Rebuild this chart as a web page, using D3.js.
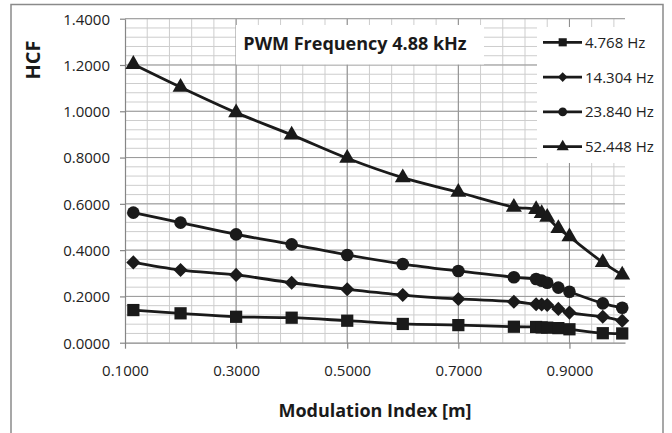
<!DOCTYPE html>
<html>
<head>
<meta charset="utf-8">
<script src="https://cdn.jsdelivr.net/npm/d3@7"></script>
<style>
  body { margin: 0; background: #fff; }
  svg { display: block; font-family: "Open Sans", sans-serif; }
</style>
</head>
<body>
<div id="chart"></div>
<script>
// modulation index values (x)
const modIndex = [0.115, 0.2, 0.3, 0.4, 0.5, 0.6, 0.7, 0.8, 0.84, 0.85, 0.86, 0.88, 0.9, 0.96, 0.995];

// HCF per series
const hcf4768  = [0.141, 0.127, 0.112, 0.108, 0.095, 0.081, 0.076, 0.069, 0.068, 0.066, 0.065, 0.063, 0.058, 0.041, 0.040];
const hcf14304 = [0.347, 0.314, 0.293, 0.259, 0.231, 0.206, 0.189, 0.177, 0.166, 0.165, 0.163, 0.146, 0.130, 0.112, 0.095];
const hcf23840 = [0.562, 0.519, 0.468, 0.425, 0.379, 0.340, 0.310, 0.283, 0.275, 0.268, 0.259, 0.238, 0.220, 0.170, 0.151];
const hcf52448 = [1.203, 1.104, 0.994, 0.898, 0.797, 0.713, 0.650, 0.586, 0.576, 0.559, 0.542, 0.494, 0.458, 0.347, 0.293];

const seriesNames = ["4.768 Hz", "14.304 Hz", "23.840 Hz", "52.448 Hz"];
const xTicks = [0.1, 0.3, 0.5, 0.7, 0.9];
const yTicks = [0, 0.2, 0.4, 0.6, 0.8, 1.0, 1.2, 1.4];

const chartTitle = "PWM Frequency 4.88 kHz";
const xTitle = "Modulation Index [m]";
const yTitle = "HCF";

const width = 672, height = 433;
const margin = {left: 125, top: 18.7, right: 47, bottom: 90.3};
const innerW = width - margin.left - margin.right;
const innerH = height - margin.top - margin.bottom;

const x = d3.scaleLinear().domain([0.1, 1.0]).range([0, innerW]);
const y = d3.scaleLinear().domain([0, 1.4]).range([innerH, 0]);

const svg = d3.select("#chart").append("svg")
  .attr("width", width).attr("height", height);

// outer chart border
svg.append("rect")
  .attr("x", 11).attr("y", 4.5)
  .attr("width", 652).attr("height", 440)
  .attr("fill", "#fff").attr("stroke", "#8a8a8a").attr("stroke-width", 1.5);

const g = svg.append("g").attr("transform", `translate(${margin.left},${margin.top})`);

// minor grid
const minorX = d3.range(0.14, 1.0001, 0.04);
const minorY = d3.range(0.04, 1.4001, 0.04);
g.append("g").selectAll("line").data(minorX).join("line")
  .attr("x1", d => x(d)).attr("x2", d => x(d)).attr("y1", 0).attr("y2", innerH)
  .attr("stroke", "#cdcdcd").attr("stroke-width", 1);
g.append("g").selectAll("line").data(minorY).join("line")
  .attr("x1", 0).attr("x2", innerW).attr("y1", d => y(d)).attr("y2", d => y(d))
  .attr("stroke", "#cdcdcd").attr("stroke-width", 1);

// major grid
g.append("g").selectAll("line").data(xTicks.slice(1)).join("line")
  .attr("x1", d => x(d)).attr("x2", d => x(d)).attr("y1", 0).attr("y2", innerH)
  .attr("stroke", "#8c8c8c").attr("stroke-width", 1);
g.append("g").selectAll("line").data(yTicks.slice(1)).join("line")
  .attr("x1", 0).attr("x2", innerW).attr("y1", d => y(d)).attr("y2", d => y(d))
  .attr("stroke", "#9a9a9a").attr("stroke-width", 1);

// axes
const xAxis = g.append("g").attr("transform", `translate(0,${innerH})`)
  .call(d3.axisBottom(x).tickValues(xTicks).tickFormat(d3.format(".4f")).tickSizeInner(6).tickSizeOuter(0));
const yAxis = g.append("g")
  .call(d3.axisLeft(y).tickValues(yTicks).tickFormat(d3.format(".4f")).tickSizeInner(5).tickSizeOuter(0));
[xAxis, yAxis].forEach(a => {
  a.select(".domain").attr("stroke", "#868686").attr("stroke-width", 1.2);
  a.selectAll(".tick line").attr("stroke", "#868686").attr("stroke-width", 1.2);
  a.selectAll("text").attr("fill", "#222").style("font-size", "15px").style("font-family", "Open Sans");
});
xAxis.selectAll("text").attr("dy", null).attr("y", 33);
yAxis.selectAll("text").attr("x", -15).attr("dy", "0.36em");

// series lines and markers
const allSeries = [hcf4768, hcf14304, hcf23840, hcf52448];
const symbols = [
  {type: d3.symbolSquare, size: 150, rot: 0, lsize: 66},
  {type: d3.symbolSquare, size: 100, rot: 45, lsize: 46},
  {type: d3.symbolCircle, size: 125, rot: 0, lsize: 60},
  {type: d3.symbolTriangle, size: 110, rot: 0, lsize: 64}
];
const line = d3.line().x(d => x(d[0])).y(d => y(d[1])).curve(d3.curveCatmullRom.alpha(0.5));
const ink = "#1a1a1a";

allSeries.forEach((vals, i) => {
  const pts = modIndex.map((m, j) => [m, vals[j]]);
  g.append("path").datum(pts)
    .attr("d", line).attr("fill", "none").attr("stroke", ink).attr("stroke-width", 2.8);
  const sym = d3.symbol().type(symbols[i].type).size(symbols[i].size);
  g.append("g").selectAll("path").data(pts).join("path")
    .attr("d", sym)
    .attr("transform", d => `translate(${x(d[0])},${y(d[1])}) rotate(${symbols[i].rot})`)
    .attr("fill", ink);
});

// title box
const tb = svg.append("g");
tb.append("rect").attr("x", 236).attr("y", 25).attr("width", 248).attr("height", 39.5).attr("fill", "#fff");
tb.append("text").attr("x", 355).attr("y", 50).attr("text-anchor", "middle")
  .style("font-size", "18px").style("font-weight", "bold").attr("fill", "#1a1a1a").text(chartTitle);

// legend
const lg = svg.append("g");
lg.append("rect").attr("x", 537).attr("y", 27).attr("width", 124).attr("height", 136).attr("fill", "#fff");
seriesNames.forEach((name, i) => {
  const cy = 42.3 + i * 34.8;
  lg.append("line").attr("x1", 543).attr("x2", 582).attr("y1", cy).attr("y2", cy)
    .attr("stroke", ink).attr("stroke-width", 2.8);
  lg.append("path").attr("d", d3.symbol().type(symbols[i].type).size(symbols[i].lsize))
    .attr("transform", `translate(562.7,${cy}) rotate(${symbols[i].rot})`).attr("fill", ink);
  lg.append("text").attr("x", 585).attr("y", cy).attr("dy", "0.36em")
    .style("font-size", "15px").attr("fill", "#222").text(name);
});

// axis titles
svg.append("text").attr("x", 375).attr("y", 417).attr("text-anchor", "middle")
  .style("font-size", "18px").style("font-weight", "bold").attr("fill", "#1a1a1a").text(xTitle);
svg.append("text").attr("transform", "translate(40,60) rotate(-90)").attr("text-anchor", "middle")
  .style("font-size", "20px").style("font-weight", "bold").attr("fill", "#1a1a1a").text(yTitle);
</script>
</body>
</html>
